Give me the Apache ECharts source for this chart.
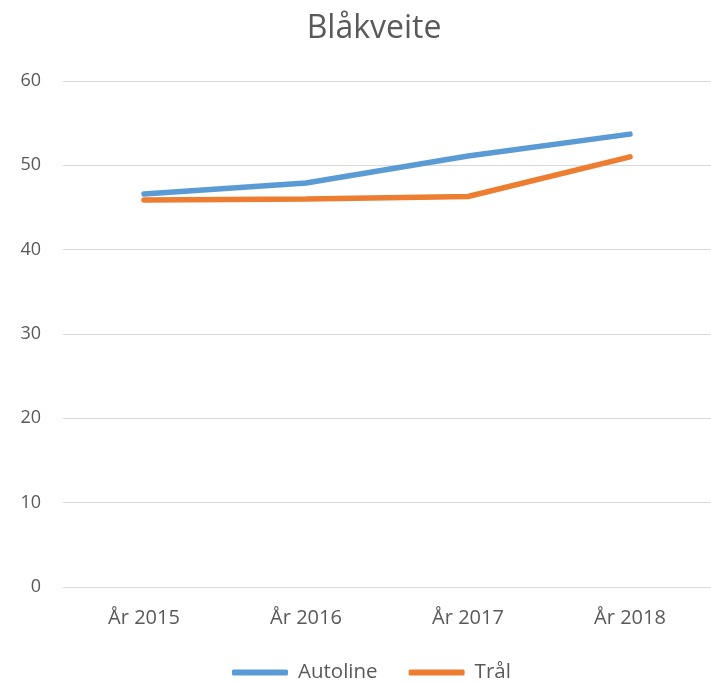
<!DOCTYPE html>
<html>
<head>
<meta charset="utf-8">
<script src="https://cdn.jsdelivr.net/npm/echarts@6/dist/echarts.min.js"></script>
<style>
  html, body { margin: 0; padding: 0; background: #fff; }
  #chart { width: 711px; height: 682px; }
</style>
</head>
<body>
<div id="chart"></div>
<script>
var years = ["År 2015", "År 2016", "År 2017", "År 2018"];
var autoline = [46.6, 47.9, 51.1, 53.7];
var tral = [45.9, 46.0, 46.3, 51.0];

var dom = document.getElementById("chart");
var myChart = echarts.init(dom, null, { renderer: "canvas" });

var font = "'Open Sans', sans-serif";

var option = {
  animation: false,
  title: {
    text: "Blåkveite",
    left: 369,
    textAlign: "center",
    top: 8,
    textStyle: { fontFamily: font, fontSize: 32, fontWeight: "normal", color: "#595959" }
  },
  legend: {
    top: 662,
    left: 232,
    padding: 0,
    itemWidth: 56,
    itemHeight: 6,
    itemGap: 31,
    icon: "roundRect",
    textStyle: { fontFamily: font, fontSize: 20.5, color: "#595959", padding: [0, 0, 0, 5] },
    data: ["Autoline", "Trål"]
  },
  grid: { left: 63, right: 0, top: 81, bottom: 95 },
  xAxis: {
    type: "category",
    data: years,
    boundaryGap: true,
    axisLine: { show: false },
    axisTick: { show: false },
    axisLabel: { margin: 21, fontFamily: font, fontSize: 20, color: "#595959" }
  },
  yAxis: {
    type: "value",
    min: 0,
    max: 60,
    interval: 10,
    axisLine: { show: false },
    axisTick: { show: false },
    splitLine: { lineStyle: { color: "#d9d9d9", width: 1 } },
    axisLabel: { margin: 22, fontFamily: font, fontSize: 18, color: "#595959" }
  },
  series: [
    {
      name: "Autoline",
      type: "line",
      data: autoline,
      symbol: "none",
      itemStyle: { color: "#5b9bd5" },
      lineStyle: { color: "#5b9bd5", width: 5.5, cap: "round" }
    },
    {
      name: "Trål",
      type: "line",
      data: tral,
      symbol: "none",
      itemStyle: { color: "#ed7d31" },
      lineStyle: { color: "#ed7d31", width: 5.5, cap: "round" }
    }
  ]
};

myChart.setOption(option);
window.addEventListener("resize", myChart.resize);
</script>
</body>
</html>
